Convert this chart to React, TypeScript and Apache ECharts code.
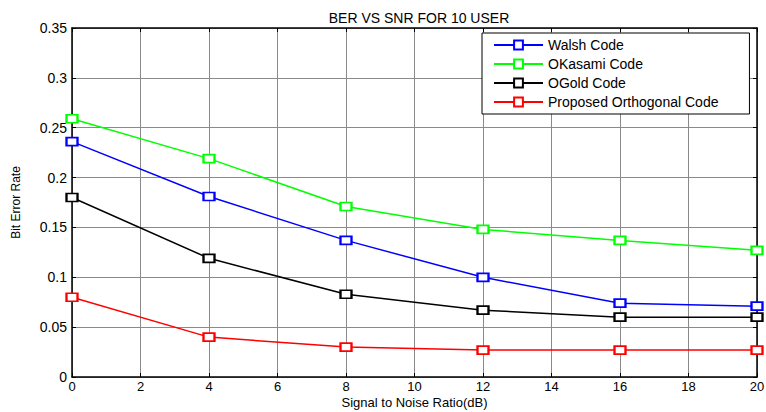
import React, { useEffect, useRef } from "react";
import * as echarts from "echarts";

const snr = [0, 4, 8, 12, 16, 20];
const walsh = [0.236, 0.181, 0.137, 0.1, 0.074, 0.071];
const okasami = [0.259, 0.219, 0.171, 0.148, 0.137, 0.127];
const ogold = [0.18, 0.119, 0.083, 0.067, 0.06, 0.06];
const proposed = [0.08, 0.04, 0.03, 0.027, 0.027, 0.027];

const seriesNames = ["Walsh Code", "OKasami Code", "OGold Code", "Proposed Orthogonal Code"];
const seriesColors = ["#0000ff", "#00ff00", "#000000", "#ff0000"];
const seriesValues = [walsh, okasami, ogold, proposed];

const FONT = "'Liberation Sans', Arial, Helvetica, sans-serif";

export default function App() {
  const ref = useRef<HTMLDivElement>(null);
  useEffect(() => {
    if (!ref.current) return;
    const chart = echarts.init(ref.current, null, { renderer: "svg" });
    const axisCommon = {
      axisLine: { show: true, onZero: false, lineStyle: { color: "#000", width: 1.5 } },
      axisTick: { show: true, inside: true, length: 4, lineStyle: { color: "#000", width: 1 } },
    };
    chart.setOption({
      animation: false,
      backgroundColor: "#fff",
      title: {
        text: "BER VS SNR FOR 10 USER",
        left: 414,
        textAlign: "center",
        top: 6,
        textStyle: { fontFamily: FONT, fontSize: 14, fontWeight: "normal", color: "#000" },
      },
      legend: {
        orient: "vertical",
        left: 482,
        top: 33,
        padding: [5, 31, 5, 11],
        itemWidth: 49,
        itemHeight: 11,
        itemGap: 5,
        backgroundColor: "#fff",
        borderColor: "#000",
        borderWidth: 1,
        borderRadius: 0,
        textStyle: { fontFamily: FONT, fontSize: 14, color: "#000" },
        data: seriesNames,
      },
      grid: { left: 72, right: 9, top: 28, bottom: 35, containLabel: false, outerBoundsMode: "none" },
      xAxis: [
        {
          type: "value",
          min: 0,
          max: 20,
          interval: 2,
          position: "bottom",
          name: "Signal to Noise Ratio(dB)",
          nameLocation: "middle",
          nameGap: 19,
          nameMoveOverlap: false,
          nameTextStyle: { fontFamily: FONT, fontSize: 13, color: "#000" },
          ...axisCommon,
          axisLabel: { fontFamily: FONT, fontSize: 13, color: "#000", margin: 3 },
          splitLine: { show: true, lineStyle: { color: "#8a8a8a", width: 1 } },
        },
        {
          type: "value",
          min: 0,
          max: 20,
          interval: 2,
          position: "top",
          ...axisCommon,
          axisLabel: { show: false },
          splitLine: { show: false },
        },
      ],
      yAxis: [
        {
          type: "value",
          min: 0,
          max: 0.35,
          interval: 0.05,
          position: "left",
          name: "Bit Error Rate",
          nameLocation: "middle",
          nameGap: 50,
          nameMoveOverlap: false,
          nameTextStyle: { fontFamily: FONT, fontSize: 12, color: "#000" },
          ...axisCommon,
          axisLabel: { fontFamily: FONT, fontSize: 14, color: "#000", margin: 5 },
          splitLine: { show: true, lineStyle: { color: "#8a8a8a", width: 1 } },
        },
        {
          type: "value",
          min: 0,
          max: 0.35,
          interval: 0.05,
          position: "right",
          ...axisCommon,
          axisLabel: { show: false },
          splitLine: { show: false },
        },
      ],
      series: seriesNames.map((name, i) => ({
        name,
        type: "line",
        xAxisIndex: 0,
        yAxisIndex: 0,
        data: snr.map((x, j) => [x, seriesValues[i][j]]),
        symbol: "emptyRect",
        symbolSize: [11, 8],
        showAllSymbol: true,
        lineStyle: { color: seriesColors[i], width: 1.5 },
        itemStyle: { color: seriesColors[i], borderColor: seriesColors[i], borderWidth: 1.5 },
        z: 3 + i,
      })),
    });
    return () => chart.dispose();
  }, []);
  return <div ref={ref} style={{ width: 766, height: 412, position: "absolute", left: 0, top: 0 }} />;
}
